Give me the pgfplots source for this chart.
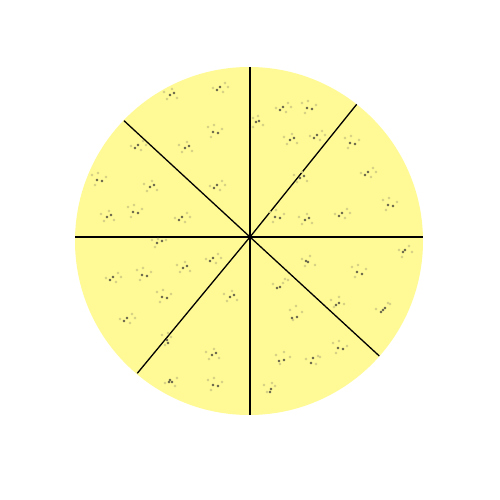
\documentclass[border=0pt]{standalone}
\usepackage{pgfplots}
\pgfplotsset{compat=1.18}
\usepackage{pgfplotstable}
\definecolor{pizza}{RGB}{255,250,150}
\definecolor{faintdot}{RGB}{212,207,132}
\definecolor{darkdot}{RGB}{100,98,75}
\pgfplotstableread{
x y
170 95
174 93
220 87
217 90
213 132
218 133
185 148
189 146
138 145
135 148
97 180
102 181
150 187
154 185
217 185
214 188
133 212
138 213
107 217
111 215
182 217
179 220
157 243
162 241
256 122
259 121
283 107
280 110
307 108
312 109
290 140
294 138
317 135
314 138
350 143
355 144
300 178
304 176
368 172
365 175
275 217
280 218
305 220
309 218
342 213
339 216
388 205
393 206
403 252
405 250
113 277
110 280
142 275
147 276
183 268
187 266
213 258
210 261
162 297
167 298
230 297
234 295
127 318
124 321
167 340
168 343
212 355
216 353
172 382
169 382
170 380
213 385
218 386
308 262
306 261
280 287
277 288
357 272
362 274
336 305
339 303
383 310
385 308
381 312
292 318
297 317
279 361
284 360
313 358
311 363
338 348
343 349
270 392
271 389
}\dark
\pgfplotstableread{
x y
164 92
167 99
177 98
172 89
225 83
213 88
223 92
228 87
208 127
211 137
222 129
214 125
179 145
182 152
192 151
187 142
143 141
131 146
141 150
146 145
92 175
95 185
106 177
98 173
144 184
147 191
157 190
152 181
222 181
210 186
220 190
225 185
128 207
131 217
142 209
134 205
101 214
104 221
114 220
109 211
187 213
175 218
185 222
190 217
152 240
155 247
166 240
158 239
253 118
253 127
263 125
258 116
288 103
276 108
286 112
291 107
302 103
305 113
316 105
308 101
284 137
287 144
297 143
292 134
322 131
310 136
320 140
325 135
345 138
348 148
359 140
351 136
294 175
297 182
307 181
302 172
373 168
361 173
371 177
376 172
270 212
273 222
284 214
276 210
299 217
302 224
312 223
307 214
347 209
335 214
345 218
350 213
383 200
386 210
397 202
389 198
399 250
402 257
412 252
409 246
118 273
106 278
116 282
121 277
137 270
140 280
151 272
143 268
177 265
180 272
190 271
185 262
218 254
206 259
216 263
221 258
157 292
160 302
171 294
163 290
224 294
227 301
237 300
232 291
132 314
120 319
130 323
135 318
162 335
165 345
171 337
168 333
206 352
209 359
219 358
214 349
177 378
165 383
175 386
208 380
211 390
222 382
214 378
302 259
305 266
315 265
310 256
285 279
273 284
283 283
288 280
352 267
355 277
366 269
358 265
331 300
334 307
344 304
339 297
388 303
376 309
390 304
290 310
293 320
302 312
296 306
276 355
280 364
290 357
284 352
318 356
306 359
316 364
320 357
333 343
336 353
347 346
339 341
264 385
267 392
275 386
272 383
}\faint
\begin{document}
\begin{tikzpicture}
\begin{axis}[
  scale only axis, width=500pt, height=500pt,
  xmin=0, xmax=500, ymin=0, ymax=500, y dir=reverse,
  hide axis, clip=false]
\path (axis cs:0,0) rectangle (axis cs:500,500);
\fill[pizza] (axis cs:249,241) circle[radius=174];
\addplot[faintdot, only marks, mark=*, mark size=1.1pt] table {\faint};
\addplot[darkdot, only marks, mark=*, mark size=1.2pt] table {\dark};
\addplot[black, line width=1.3pt] coordinates {(250,67) (250,415)};
\addplot[black, line width=1.3pt] coordinates {(75.1,237) (422.9,237)};
\addplot[black, line width=1.3pt] coordinates {(356.7,104.3) (250,237) (137.3,373.3)};
\addplot[black, line width=1.3pt] coordinates {(124,120.7) (250,237) (379.3,356)};
\end{axis}
\end{tikzpicture}
\end{document}
